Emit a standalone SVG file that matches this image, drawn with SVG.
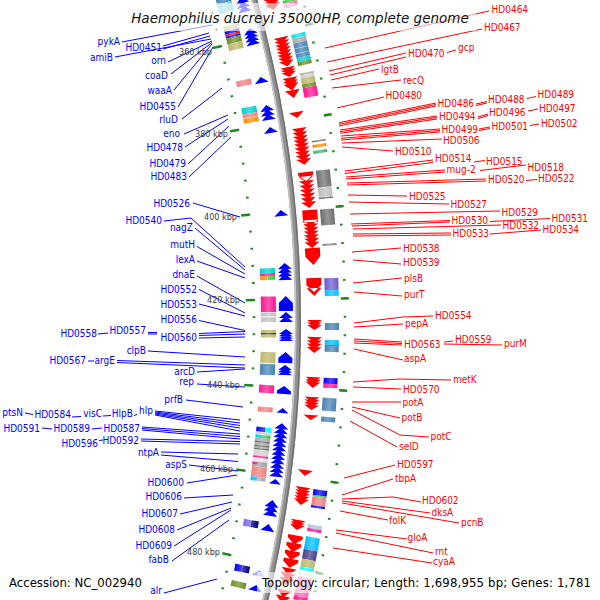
<svg xmlns="http://www.w3.org/2000/svg" width="600" height="600" viewBox="0 0 600 600">
<style>
.lb,.lr,.kb,.cap{font-family:'DejaVu Sans Condensed','DejaVu Sans',sans-serif;font-stretch:condensed}
.lb{font-size:10px;fill:#0000ff;text-anchor:end}
.lr{font-size:10px;fill:#ff0000;text-anchor:start}
.kb{font-size:9px;fill:#3a3a3a;text-anchor:end}
.cap{font-size:13px;fill:#000}
.ttl{font-family:'DejaVu Sans',sans-serif;font-style:italic;font-size:13.5px;fill:#111;text-anchor:middle}
.cb{fill:none;stroke:#0000ff;stroke-width:1}
.cr{fill:none;stroke:#ff0000;stroke-width:1}
.fb{fill:#0000ff}
.fr{fill:#ff0000}
.tk{fill:none;stroke:#1a8c1a;stroke-width:2.5}
.bx{fill:#fff;fill-opacity:.6}
</style>
<defs>
 <radialGradient id="hl" gradientUnits="userSpaceOnUse" cx="0" cy="0" r="1241">
  <stop offset="0.937" stop-color="#fff" stop-opacity="0"/>
  <stop offset="0.9432" stop-color="#fff" stop-opacity="0.28"/>
  <stop offset="0.9492" stop-color="#fff" stop-opacity="0"/>
  <stop offset="0.9887" stop-color="#fff" stop-opacity="0"/>
  <stop offset="0.9944" stop-color="#fff" stop-opacity="0.28"/>
  <stop offset="1" stop-color="#fff" stop-opacity="0"/>
 </radialGradient>
</defs>
<rect width="600" height="600" fill="#fff"/>
<g id="map" transform="translate(-902 321.4)">
 <g id="backbone" fill="none">
  <circle r="1200" stroke="#919191" stroke-width="6"/>
  <circle r="1197.8" stroke="#c4c4c4" stroke-width="1.5"/>
  <circle r="1202.2" stroke="#6f6f6f" stroke-width="1.5"/>
 </g>
 <g id="ticks" class="tk">
  <path d="M1104.52,-341.16A1156,1156 0 0 1 1120.69,283.53" stroke-dasharray="2 15.101" stroke-dashoffset="1"/>
  <path d="M1191.46,-368.01A1247,1247 0 0 1 1208.91,305.85" stroke-dasharray="2 16.447" stroke-dashoffset="1"/>
  <path d="M1148,0H1156M1243,0H1251" transform="rotate(-13.7735)"/>
  <path d="M1148,0H1156M1243,0H1251" transform="rotate(-9.5355)"/>
  <path d="M1148,0H1156M1243,0H1251" transform="rotate(-5.2975)"/>
  <path d="M1148,0H1156M1243,0H1251" transform="rotate(-1.0595)"/>
  <path d="M1148,0H1156M1243,0H1251" transform="rotate(3.1785)"/>
  <path d="M1148,0H1156M1243,0H1251" transform="rotate(7.4165)"/>
  <path d="M1148,0H1156M1243,0H1251" transform="rotate(11.6545)"/>
 </g>
 <g id="reverse-genes" class="fb">
  <path transform="rotate(-15.47)" d="M1181,-1.5L1188,-7.5L1195,-1.5ZM1181,3L1188,-3L1195,3ZM1181,7.5L1188,1.5L1195,7.5Z"/>
  <path transform="rotate(-13.876)" d="M1181,-2.5L1188,-8.5L1195,-2.5ZM1181,1.17L1188,-4.83L1195,1.17ZM1181,4.83L1188,-1.17L1195,4.83ZM1181,8.5L1188,2.5L1195,8.5Z"/>
  <path transform="rotate(-11.724)" d="M1181,3L1188,-3L1195,3Z"/>
  <path transform="rotate(-10.128)" d="M1181,-1.5L1188,-7.5L1195,-1.5ZM1181,3L1188,-3L1195,3ZM1181,7.5L1188,1.5L1195,7.5Z"/>
  <path transform="rotate(-9.271)" d="M1181,3L1188,-3L1195,3Z"/>
  <path transform="rotate(-5.235)" d="M1181,3L1188,-3L1195,3Z"/>
  <path transform="rotate(-2.407)" d="M1181,-2.5L1188,-8.5L1195,-2.5ZM1181,1.17L1188,-4.83L1195,1.17ZM1181,4.83L1188,-1.17L1195,4.83ZM1181,8.5L1188,2.5L1195,8.5Z"/>
  <path transform="rotate(-0.863)" d="M1181,7.5L1181,-0.5L1188,-7.5L1195,-0.5L1195,7.5Z"/>
  <path transform="rotate(-0.212)" d="M1181,1L1188,-5L1195,1ZM1181,5L1188,-1L1195,5Z"/>
  <path transform="rotate(0.656)" d="M1181,-1L1188,-6L1195,-1ZM1181,1.33L1188,-3.67L1195,1.33ZM1181,3.67L1188,-1.33L1195,3.67ZM1181,6L1188,1L1195,6Z"/>
  <path transform="rotate(1.741)" d="M1181,5.5L1181,0.5L1188,-5.5L1195,0.5L1195,5.5Z"/>
  <path transform="rotate(2.345)" d="M1181,0L1188,-5L1195,0ZM1181,2.5L1188,-2.5L1195,2.5ZM1181,5L1188,0L1195,5Z"/>
  <path transform="rotate(3.310)" d="M1181,4L1181,1L1188,-4L1195,1L1195,4Z"/>
  <path transform="rotate(4.301)" d="M1182,2.5L1188,-2.5L1194,2.5Z"/>
  <path transform="rotate(6.214)" d="M1181,-21L1188,-27L1195,-21ZM1181,-16.64L1188,-22.64L1195,-16.64ZM1181,-12.27L1188,-18.27L1195,-12.27ZM1181,-7.91L1188,-13.91L1195,-7.91ZM1181,-3.55L1188,-9.55L1195,-3.55ZM1181,0.82L1188,-5.18L1195,0.82ZM1181,5.18L1188,-0.82L1195,5.18ZM1181,9.55L1188,3.55L1195,9.55ZM1181,13.91L1188,7.91L1195,13.91ZM1181,18.27L1188,12.27L1195,18.27ZM1181,22.64L1188,16.64L1195,22.64ZM1181,27L1188,21L1195,27Z"/>
  <path transform="rotate(7.745)" d="M1182,2.5L1188,-2.5L1194,2.5Z"/>
  <path transform="rotate(9.037)" d="M1181,-1L1188,-8L1195,-1ZM1181,3.5L1188,-3.5L1195,3.5ZM1181,8L1188,1L1195,8Z"/>
  <path transform="rotate(9.990)" d="M1181,3.5L1188,-3.5L1195,3.5Z"/>
  <path transform="rotate(12.227)" d="M1181,3L1188,-3L1195,3Z" fill-opacity=".35"/>
  <path transform="rotate(12.968)" d="M1181,3L1188,-3L1195,3Z"/>
 </g>
 <g id="forward-genes" class="fr">
  <path transform="rotate(-15.124)" d="M1209,-6L1216.5,0L1224,-6ZM1209,-3L1216.5,3L1224,-3ZM1209,0L1216.5,6L1224,0Z"/>
  <path transform="rotate(-12.795)" d="M1209,-15L1216.5,-9L1224,-15ZM1209,-11.57L1216.5,-5.57L1224,-11.57ZM1209,-8.14L1216.5,-2.14L1224,-8.14ZM1209,-4.71L1216.5,1.29L1224,-4.71ZM1209,-1.29L1216.5,4.71L1224,-1.29ZM1209,2.14L1216.5,8.14L1224,2.14ZM1209,5.57L1216.5,11.57L1224,5.57ZM1209,9L1216.5,15L1224,9Z"/>
  <path transform="rotate(-11.831)" d="M1209,-5L1216.5,0L1224,-5ZM1209,-2.5L1216.5,2.5L1224,-2.5ZM1209,0L1216.5,5L1224,0Z"/>
  <path transform="rotate(-11.253)" d="M1209,-6.5L1216.5,0.5L1224,-6.5ZM1209,-3.5L1216.5,3.5L1224,-3.5ZM1209,-0.5L1216.5,6.5L1224,-0.5Z"/>
  <path transform="rotate(-10.774)" d="M1209,-4L1216.5,4L1224,-4Z"/>
  <path transform="rotate(-9.769)" d="M1209,-3L1216.5,3L1224,-3Z"/>
  <path transform="rotate(-8.266)" d="M1209,-18.5L1216.5,-12.5L1224,-18.5ZM1209,-14.625L1216.5,-8.625L1224,-14.625ZM1209,-10.75L1216.5,-4.75L1224,-10.75ZM1209,-6.875L1216.5,-0.875L1224,-6.875ZM1209,-3L1216.5,3L1224,-3ZM1209,0.875L1216.5,6.875L1224,0.875ZM1209,4.75L1216.5,10.75L1224,4.75ZM1209,8.625L1216.5,14.625L1224,8.625ZM1209,12.5L1216.5,18.5L1224,12.5Z"/>
  <path transform="rotate(-6.201)" d="M1209,-18L1224,-18L1224,-15L1216.5,-9L1209,-15ZM1209,-13.71L1216.5,-7.71L1224,-13.71ZM1209,-9.43L1216.5,-3.43L1224,-9.43ZM1209,-5.14L1216.5,0.86L1224,-5.14ZM1209,-0.86L1216.5,5.14L1224,-0.86ZM1209,3.43L1216.5,9.43L1224,3.43ZM1209,7.71L1216.5,13.71L1224,7.71ZM1209,12L1216.5,18L1224,12Z"/>
  <path transform="rotate(-3.955)" d="M1209,-27.5L1224,-27.5L1224,-15.5L1209,-15.5ZM1209,-17.5L1216.5,-11.5L1224,-17.5ZM1209,-13.83L1216.5,-7.83L1224,-13.83ZM1209,-10.17L1216.5,-4.17L1224,-10.17ZM1209,-6.5L1216.5,-0.5L1224,-6.5ZM1209,-2.83L1216.5,3.17L1224,-2.83ZM1209,0.83L1216.5,6.83L1224,0.83ZM1209,4.5L1216.5,10.5L1224,4.5ZM1209,10.5L1224,10.5L1224,19L1216.5,27.5L1209,19Z"/>
  <path transform="rotate(-1.620)" d="M1209,-9L1224,-9L1224,-2L1216.5,5L1209,-2ZM1209,1L1216.5,9L1224,1Z"/>
  <path transform="rotate(0.1696)" d="M1209,-5L1216.5,0L1224,-5ZM1209,-2.5L1216.5,2.5L1224,-2.5ZM1209,0L1216.5,5L1224,0Z"/>
  <path transform="rotate(1.1116)" d="M1209,-8L1216.5,-2L1224,-8ZM1209,-4.67L1216.5,1.33L1224,-4.67ZM1209,-1.33L1216.5,4.67L1224,-1.33ZM1209,2L1216.5,8L1224,2Z"/>
  <path transform="rotate(2.879)" d="M1209,-5.5L1216.5,0.5L1224,-5.5ZM1209,-3L1216.5,3L1224,-3ZM1209,-0.5L1216.5,5.5L1224,-0.5Z"/>
  <path transform="rotate(3.870)" d="M1209,-6.5L1216.5,-1.5L1224,-6.5ZM1209,-3.83L1216.5,1.17L1224,-3.83ZM1209,-1.17L1216.5,3.83L1224,-1.17ZM1209,1.5L1216.5,6.5L1224,1.5Z"/>
  <path transform="rotate(4.531)" d="M1209,-2.5L1216.5,2.5L1224,-2.5Z"/>
  <path transform="rotate(7.159)" d="M1209,-3L1216.5,3L1224,-3Z"/>
  <path transform="rotate(8.252)" d="M1209,-9L1216.5,-3L1224,-9ZM1209,-6L1216.5,0L1224,-6ZM1209,-3L1216.5,3L1224,-3ZM1209,0L1216.5,6L1224,0ZM1209,3L1216.5,9L1224,3Z"/>
  <path transform="rotate(9.635)" d="M1209,-5L1216.5,0L1224,-5ZM1209,-2.5L1216.5,2.5L1224,-2.5ZM1209,0L1216.5,5L1224,0Z"/>
  <path transform="rotate(10.904)" d="M1209,-16.5L1224,-16.5L1224,-13.5L1216.5,-7.5L1209,-13.5ZM1209,-8.5L1224,-8.5L1224,-5.5L1216.5,0.5L1209,-5.5ZM1209,-0.5L1224,-0.5L1224,2.5L1216.5,8.5L1209,2.5ZM1209,7.5L1224,7.5L1224,10.5L1216.5,16.5L1209,10.5Z"/>
  <path transform="rotate(12.106)" d="M1209,-8.5L1216.5,-1.5L1224,-8.5ZM1209,-3.5L1216.5,3.5L1224,-3.5ZM1209,1.5L1216.5,8.5L1224,1.5Z"/>
  <path transform="rotate(13.047)" d="M1209,-6L1216.5,1L1224,-6ZM1209,0L1216.5,7L1224,0Z"/>
 </g>
 <g id="reverse-cog">
  <g transform="rotate(-15.638)"><rect x="1163" y="-8" width="15" height="5" fill="#4682b4"/><rect x="1163" y="-3" width="15" height="10" fill="#70d0d8"/></g>
  <g transform="rotate(-14.043)"><rect x="1163" y="-12.5" width="15" height="5" fill="#bdb76b"/><rect x="1163" y="-7.5" width="15" height="3" fill="#0000ff"/><rect x="1163" y="-4.5" width="15" height="2" fill="#ff0000"/><rect x="1163" y="-2.5" width="15" height="2" fill="#0000ff"/><rect x="1163" y="-0.5" width="15" height="6" fill="#6b8e23"/><rect x="1163" y="5.5" width="15" height="7" fill="#bdb76b"/></g>
  <g transform="rotate(-11.757)"><rect x="1163" y="-3" width="15" height="6" fill="#f08080"/></g>
  <g transform="rotate(-10.161)"><rect x="1163" y="-8" width="15" height="6.3" fill="#00ced1"/><rect x="1163" y="-1.7" width="15" height="4" fill="#f08080"/><rect x="1163" y="2.7" width="15" height="5" fill="#ff8c00"/></g>
  <g transform="rotate(-2.273)"><rect x="1163" y="-6.7" width="15" height="5" fill="#00ced1"/><rect x="1163" y="-1.7" width="15" height="2.7" fill="#ff1493"/><rect x="1163" y="1" width="7.5" height="4" fill="#ff8c00"/><rect x="1170.5" y="1" width="7.5" height="4" fill="#32cd32"/></g>
  <g transform="rotate(-0.852)"><rect x="1163" y="-7.5" width="15" height="15.5" fill="#ff1493"/></g>
  <g transform="rotate(-0.2155)"><rect x="1163" y="-4.5" width="15" height="9.5" fill="#c0c0c0"/><rect x="1163" y="-1" width="15" height="1.5" fill="#e8e8e8"/></g>
  <g transform="rotate(0.5926)"><rect x="1163" y="-3.5" width="15" height="7.5" fill="#bdb76b"/><rect x="1163" y="-0.5" width="15" height="1.2" fill="#2020c0"/></g>
  <g transform="rotate(1.768)"><rect x="1163" y="-5.5" width="15" height="11" fill="#bdb76b"/></g>
  <g transform="rotate(2.356)"><rect x="1163" y="-5.5" width="15" height="11" fill="#4682b4"/></g>
  <g transform="rotate(3.312)"><rect x="1163" y="-4" width="15" height="8" fill="#ff1493"/></g>
  <g transform="rotate(4.3185)"><rect x="1163" y="-2.5" width="15" height="5" fill="#f08080"/></g>
  <g transform="rotate(6.532)">
   <rect x="1163" y="-27.5" width="9" height="5" fill="#0000ff"/><rect x="1172" y="-27.5" width="6" height="5" fill="#00ffff"/>
   <rect x="1163" y="-22.5" width="15" height="3" fill="#d3d3d3"/>
   <rect x="1163" y="-19.5" width="7.5" height="3" fill="#00ced1"/><rect x="1170.5" y="-19.5" width="7.5" height="3" fill="#32cd32"/>
   <rect x="1163" y="-16.5" width="15" height="12" fill="#a9a9a9"/>
   <rect x="1163" y="-13" width="15" height="1" fill="#5a5a5a"/><rect x="1163" y="-9" width="15" height="1" fill="#5a5a5a"/><rect x="1163" y="-6" width="15" height="1" fill="#5a5a5a"/>
   <rect x="1163" y="-4.5" width="15" height="6" fill="#d0d0d0"/>
   <rect x="1163" y="1.5" width="15" height="2" fill="#ff1493"/>
   <rect x="1163" y="3.5" width="15" height="4" fill="#e4e4e4"/>
   <rect x="1163" y="7.5" width="15" height="5" fill="#a0a0a0"/><rect x="1163" y="8" width="5" height="2" fill="#ff1493"/>
   <rect x="1163" y="12.5" width="15" height="10" fill="#f08080"/>
   <rect x="1163" y="22.5" width="7" height="4" fill="#00bfff"/><rect x="1170" y="22.5" width="8" height="4" fill="#a9a9a9"/>
  </g>
  <g transform="rotate(9.947)"><rect x="1163" y="-3.5" width="7.5" height="7" fill="#7b68ee"/><rect x="1170.5" y="-3.5" width="7.5" height="7" fill="#000080"/></g>
  <g transform="rotate(12.193)"><rect x="1163" y="-3.5" width="7.5" height="7" fill="#0000ff"/><rect x="1170.5" y="-3.5" width="7.5" height="7" fill="#00008b"/></g>
  <g transform="rotate(12.995)"><rect x="1163" y="-3" width="15" height="6" fill="#6b8e23"/></g>
 </g>
 <g id="forward-cog">
  <g transform="rotate(-14.952)"><rect x="1227" y="-4" width="14" height="3" fill="#32cd32"/><rect x="1227" y="-1" width="14" height="5" fill="#ff69b4"/></g>
  <g transform="rotate(-12.753)"><rect x="1227" y="-16" width="14" height="4" fill="#00e5ee"/><rect x="1227" y="-12" width="14" height="5" fill="#a9a9a9"/><rect x="1227" y="-7" width="14" height="15" fill="#4682b4"/><rect x="1227" y="-2" width="14" height="0.8" fill="#9cc3e0"/><rect x="1227" y="3" width="14" height="0.8" fill="#9cc3e0"/><rect x="1227" y="8" width="14" height="4" fill="#00ced1"/><rect x="1227" y="12" width="14" height="4" fill="#6b8e23"/></g>
  <g transform="rotate(-11.068)"><rect x="1227" y="-12.5" width="14" height="2" fill="#a9a9a9"/><rect x="1227" y="-10.5" width="14" height="3" fill="#d3d3d3"/><rect x="1227" y="-7.5" width="14" height="6" fill="#bdb76b"/><rect x="1227" y="-1.5" width="14" height="4" fill="#6b8e23"/><rect x="1227" y="2.5" width="14" height="10" fill="#ff1493"/></g>
  <g transform="rotate(-8.148)"><rect x="1227" y="-6.5" width="14" height="1.5" fill="#696969"/><rect x="1227" y="-2.5" width="14" height="3" fill="#ff8c00"/><rect x="1227" y="3.5" width="14" height="3" fill="#3cb371"/></g>
  <g transform="rotate(-6.393)"><rect x="1227" y="-14" width="14" height="17" fill="#707070"/><rect x="1227" y="3.5" width="14" height="9" fill="#bebebe"/><rect x="1227" y="13" width="14" height="1.5" fill="#606060"/></g>
  <g transform="rotate(-4.853)"><rect x="1227" y="-8" width="14" height="16" fill="#6e6e6e"/></g>
  <g transform="rotate(-3.573)"><rect x="1227" y="-1" width="14" height="2" fill="#808080"/></g>
  <g transform="rotate(-1.597)"><rect x="1227" y="-9" width="14" height="12" fill="#6a5acd"/><rect x="1227" y="3" width="14" height="6" fill="#00bfff"/></g>
  <g transform="rotate(0.2368)"><rect x="1227" y="-3.5" width="14" height="7" fill="#4682b4"/></g>
  <g transform="rotate(1.1423)"><rect x="1227" y="-6" width="14" height="5" fill="#00bfff"/><rect x="1227" y="-1" width="14" height="1" fill="#2f4f6f"/><rect x="1227" y="0" width="14" height="6" fill="#4682b4"/></g>
  <g transform="rotate(2.861)"><rect x="1227" y="-5" width="14" height="6" fill="#0000ff"/><rect x="1227" y="1" width="14" height="4" fill="#ff1493"/></g>
  <g transform="rotate(3.861)"><rect x="1227" y="-6.5" width="14" height="13" fill="#4682b4"/></g>
  <g transform="rotate(4.560)"><rect x="1227" y="-2.5" width="14" height="5" fill="#4682b4"/></g>
  <g transform="rotate(8.275)"><rect x="1227" y="-9" width="14" height="5.7" fill="#0000ff"/><rect x="1227" y="-3.3" width="14" height="1.6" fill="#32cd32"/><rect x="1227" y="-1.7" width="14" height="8.7" fill="#f08080"/><rect x="1227" y="7" width="14" height="2.3" fill="#0000ff"/></g>
  <g transform="rotate(9.662)"><rect x="1227" y="-3.5" width="14" height="4" fill="#b0c4de"/><rect x="1227" y="0.5" width="14" height="3" fill="#ff1493"/></g>
  <g transform="rotate(10.865)"><rect x="1227" y="-17" width="14" height="13" fill="#00bfff"/><rect x="1227" y="-4" width="14" height="10" fill="#483d8b"/><rect x="1227" y="6" width="14" height="8" fill="#bdb76b"/><rect x="1227" y="14" width="14" height="3" fill="#00ffff"/></g>
  <g transform="rotate(12.430)"><rect x="1227" y="-14" width="14" height="2" fill="#98fb98"/><rect x="1227" y="-10" width="14" height="20" fill="#ff69b4"/><rect x="1227" y="10" width="14" height="4" fill="#ff1493"/></g>
 </g>
 <g id="cog-shading" fill="none" stroke="url(#hl)">
  <circle r="1170.5" stroke-width="15"/>
  <circle r="1234" stroke-width="14"/>
 </g>
</g>
<g id="connectors">
 <g class="cb">
  <path d="M122,42L212,25"/><path d="M163,46L209,33M163,49L210,36"/><path d="M115,57L211,39"/><path d="M168,62L212,41"/><path d="M171,74L212,42.5"/><path d="M174,90L212,44"/><path d="M178,107L213,47"/>
  <path d="M182,119L222,88"/><path d="M184,134L228,115"/><path d="M185,147L228,119"/><path d="M188,164L229,126"/><path d="M189,177L231,137"/>
  <path d="M193,203L240,217"/><path d="M164,221L191,218L245,267"/><path d="M195,228L245,270"/><path d="M197,246.5L245,274"/><path d="M197,261L245,278"/><path d="M197,276L245,303"/>
  <path d="M199,289.5L245,313"/><path d="M199,304L245,316"/><path d="M199,320.5L245,330.5"/>
  <path d="M98,334L108,333"/><path d="M148,332.5L157,332.5M148,334L157,334"/><path d="M199,333.5L245,331.5M199,335.5L245,334M199,338L245,337"/>
  <path d="M148,351L245,357"/><path d="M88,361L94,361"/><path d="M117,360.5L245,365M117,362.5L245,368"/><path d="M197,372L245,369"/><path d="M197,384L245,387"/><path d="M186,400L243,407"/>
  <path d="M25,413L33,414.5M72,417L81,416.5M103,416L111,415.5M134,415.5L137,414.5"/>
  <path d="M155,411L240,420M155,412L240,423M155,413L240,425.5M155,414L240,428M155,415L240,431"/>
  <path d="M42,428L52,429M92,429L102,428"/><path d="M142,427L240,434M142,428.5L240,436.5M142,430L240,439"/>
  <path d="M99,440.5L103,440"/><path d="M141,439L240,441.5M141,441L240,444"/>
  <path d="M161,452L238,454M161,455L238,461.5"/><path d="M189,465L238,471"/>
  <path d="M187,483L237,475"/><path d="M184,498L233,495"/><path d="M180,514L232,502"/><path d="M177,530L231,508"/><path d="M174,546L231,510"/><path d="M172,561L229,520"/><path d="M164,593L217,579"/>
 </g>
 <g class="cr">
  <path d="M325,48L489,11"/><path d="M327,62L482,29"/><path d="M329,71L406,53"/><path d="M330,75L406,57M447,52.5L456,50"/><path d="M331,80L379,69"/><path d="M332,88L401,80"/><path d="M337,108L384,97"/>
  <path d="M339,122.7L436,103M339,124.3L436,104.5M339,126L436,106"/><path d="M476,104L487,101.5M476,105.5L487,103M527,98.5L536,96.5"/>
  <path d="M340,130L437,116M340,131.7L437,117.5M340,133.3L437,119"/><path d="M478,117L488,114M478,118.5L488,115.5M528,111L538,109"/>
  <path d="M341,136L440,129M341,138.3L440,130.5M341,140L440,132"/><path d="M479,129L490,127M479,130.5L490,128.5M530,125.5L539,124"/>
  <path d="M342,143L442,139"/><path d="M342,147L393,151"/>
  <path d="M345,171L433,160M345,173.5L433,162.5M474,162L485,160.5"/>
  <path d="M346,177L445,170M346,179L445,172M480,170.5L526,165"/>
  <path d="M347,183L486,179M347,185L486,181M526,180.5L537,179.5"/>
  <path d="M348,195L407,196"/><path d="M349,202L449,204"/><path d="M350,214L500,211"/>
  <path d="M351,224L450,220.5M352,226L450,222M490,221.5L550,218.5"/><path d="M353,229L501,225"/>
  <path d="M353,234L451,233M353,236L451,235M490,234L541,230"/>
  <path d="M352,252L401,248"/><path d="M353,260L401,264"/><path d="M353,283L402,278"/><path d="M354,292L402,296"/>
  <path d="M354,323L403,317L433,316"/><path d="M354,327L403,324"/>
  <path d="M354,339L402,342M354,341L402,343.5M444,342L453,341M354,343L402,345M444,344L502,345"/>
  <path d="M354,349L403,360"/><path d="M353,382L400,379L451,380"/><path d="M353,387L401,389"/>
  <path d="M352,402L401,402"/><path d="M352,407L400,418"/><path d="M352,410L400,435L429,437"/><path d="M350,421L397,447"/>
  <path d="M344,478L395,465"/><path d="M342,495L393,479"/><path d="M342,499L393,497L421,502"/><path d="M342,501L430,513"/><path d="M342,503L459,523"/><path d="M340,511L388,520"/>
  <path d="M336,530L407,539"/><path d="M336,533L433,553"/><path d="M333,548L432,563"/>
 </g>
</g>
<g id="labels-reverse">
 <text class="lb" x="120" y="45">pykA</text>
 <text class="lb" x="162" y="50.5">HD0451</text>
 <text class="lb" x="113" y="60.5">amiB</text>
 <text class="lb" x="166" y="64">orn</text>
 <text class="lb" x="168" y="79">coaD</text>
 <text class="lb" x="172" y="94">waaA</text>
 <text class="lb" x="176" y="110">HD0455</text>
 <text class="lb" x="178" y="123">rluD</text>
 <text class="lb" x="180" y="136.5">eno</text>
 <text class="lb" x="183" y="150.5">HD0478</text>
 <text class="lb" x="186" y="166.5">HD0479</text>
 <text class="lb" x="187" y="180">HD0483</text>
 <text class="lb" x="190" y="206.5">HD0526</text>
 <text class="lb" x="162" y="223.5">HD0540</text>
 <text class="lb" x="193" y="231">nagZ</text>
 <text class="lb" x="195" y="248">mutH</text>
 <text class="lb" x="195" y="263">lexA</text>
 <text class="lb" x="195" y="278">dnaE</text>
 <text class="lb" x="197" y="292.5">HD0552</text>
 <text class="lb" x="197" y="307.5">HD0553</text>
 <text class="lb" x="197" y="323">HD0556</text>
 <text class="lb" x="97" y="336.5">HD0558</text>
 <text class="lb" x="146" y="334">HD0557</text>
 <text class="lb" x="197" y="340.5">HD0560</text>
 <text class="lb" x="146" y="353.5">clpB</text>
 <text class="lb" x="86" y="364">HD0567</text>
 <text class="lb" x="115" y="363.5">argE</text>
 <text class="lb" x="195" y="375">arcD</text>
 <text class="lb" x="194" y="384.5">rep</text>
 <text class="lb" x="183" y="403">prfB</text>
 <text class="lb" x="23" y="416">ptsN</text>
 <text class="lb" x="71" y="418">HD0584</text>
 <text class="lb" x="102" y="416.5">visC</text>
 <text class="lb" x="133" y="416.5">HlpB</text>
 <text class="lb" x="153" y="413.5">hlp</text>
 <text class="lb" x="40" y="431.5">HD0591</text>
 <text class="lb" x="90" y="432">HD0589</text>
 <text class="lb" x="140" y="432">HD0587</text>
 <text class="lb" x="98" y="446.5">HD0596</text>
 <text class="lb" x="139" y="444">HD0592</text>
 <text class="lb" x="159" y="456">ntpA</text>
 <text class="lb" x="187" y="468">aspS</text>
 <text class="lb" x="184" y="485.5">HD0600</text>
 <text class="lb" x="182" y="500">HD0606</text>
 <text class="lb" x="178" y="516.5">HD0607</text>
 <text class="lb" x="175" y="533">HD0608</text>
 <text class="lb" x="172" y="549">HD0609</text>
 <text class="lb" x="169" y="562.5">fabB</text>
 <text class="lb" x="162" y="594">alr</text>
</g>
<g id="labels-forward">
 <text class="lr" x="491.5" y="13">HD0464</text>
 <text class="lr" x="484" y="31">HD0467</text>
 <text class="lr" x="408" y="56.5">HD0470</text>
 <text class="lr" x="458" y="51">gcp</text>
 <text class="lr" x="381" y="72.5">lgtB</text>
 <text class="lr" x="403" y="83.5">recQ</text>
 <text class="lr" x="385.5" y="99">HD0480</text>
 <text class="lr" x="437.5" y="106.5">HD0486</text>
 <text class="lr" x="488" y="103">HD0488</text>
 <text class="lr" x="537.5" y="98">HD0489</text>
 <text class="lr" x="439" y="120">HD0494</text>
 <text class="lr" x="489" y="116">HD0496</text>
 <text class="lr" x="539" y="111.5">HD0497</text>
 <text class="lr" x="441.5" y="132.5">HD0499</text>
 <text class="lr" x="491.5" y="130">HD0501</text>
 <text class="lr" x="541" y="126.5">HD0502</text>
 <text class="lr" x="443" y="144">HD0506</text>
 <text class="lr" x="395" y="154.5">HD0510</text>
 <text class="lr" x="435" y="161.5">HD0514</text>
 <text class="lr" x="486" y="164.5">HD0515</text>
 <text class="lr" x="527.5" y="170.5">HD0518</text>
 <text class="lr" x="446.5" y="173">mug-2</text>
 <text class="lr" x="488" y="183">HD0520</text>
 <text class="lr" x="538" y="182">HD0522</text>
 <text class="lr" x="409" y="199.5">HD0525</text>
 <text class="lr" x="450.5" y="208">HD0527</text>
 <text class="lr" x="501.5" y="215.5">HD0529</text>
 <text class="lr" x="451.5" y="224">HD0530</text>
 <text class="lr" x="551.5" y="221.5">HD0531</text>
 <text class="lr" x="502.5" y="229">HD0532</text>
 <text class="lr" x="452.5" y="237">HD0533</text>
 <text class="lr" x="542.5" y="233">HD0534</text>
 <text class="lr" x="403" y="251.5">HD0538</text>
 <text class="lr" x="403" y="266">HD0539</text>
 <text class="lr" x="404" y="281.5">plsB</text>
 <text class="lr" x="404" y="298">purT</text>
 <text class="lr" x="435" y="319">HD0554</text>
 <text class="lr" x="405" y="326.5">pepA</text>
 <text class="lr" x="455" y="342.5">HD0559</text>
 <text class="lr" x="404" y="348">HD0563</text>
 <text class="lr" x="504" y="346.5">purM</text>
 <text class="lr" x="404" y="362.3">aspA</text>
 <text class="lr" x="453" y="383">metK</text>
 <text class="lr" x="403" y="392.5">HD0570</text>
 <text class="lr" x="402.5" y="405.5">potA</text>
 <text class="lr" x="401.5" y="421.3">potB</text>
 <text class="lr" x="430.5" y="439.5">potC</text>
 <text class="lr" x="399" y="450">selD</text>
 <text class="lr" x="397" y="468">HD0597</text>
 <text class="lr" x="395" y="482">tbpA</text>
 <text class="lr" x="422" y="503.5">HD0602</text>
 <text class="lr" x="431.5" y="516">dksA</text>
 <text class="lr" x="461" y="525.5">pcnB</text>
 <text class="lr" x="389" y="524">folK</text>
 <text class="lr" x="407.5" y="541.3">gloA</text>
 <text class="lr" x="435" y="554.5">rnt</text>
 <text class="lr" x="433" y="564.5">cyaA</text>
</g>
<g id="ruler-labels">
 <text class="kb" x="212" y="55">360 kbp</text>
 <text class="kb" x="228" y="137">380 kbp</text>
 <text class="kb" x="237" y="219.5">400 kbp</text>
 <text class="kb" x="240" y="303">420 kbp</text>
 <text class="kb" x="240" y="387.5">440 kbp</text>
 <text class="kb" x="233" y="471.5">460 kbp</text>
 <text class="kb" x="220" y="554.5">480 kbp</text>
</g>
<g id="title">
 <rect class="bx" x="124" y="3" width="352" height="28"/>
 <text class="ttl" x="300" y="23">Haemophilus ducreyi 35000HP, complete genome</text>
</g>
<g id="legend">
 <rect class="bx" x="4" y="572" width="144" height="21"/>
 <text class="cap" x="9" y="587">Accession: NC_002940</text>
 <rect class="bx" x="257" y="572" width="339" height="21"/>
 <text class="cap" x="262" y="587" textLength="329">Topology: circular; Length: 1,698,955 bp; Genes: 1,781</text>
</g>
</svg>
